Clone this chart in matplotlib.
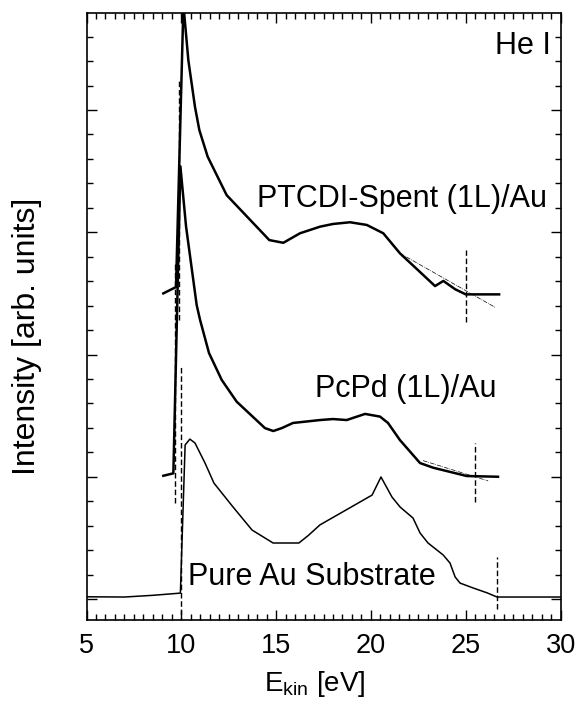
import matplotlib.pyplot as plt
from matplotlib.ticker import MultipleLocator

plt.rcParams['font.family'] = ['Liberation Sans', 'DejaVu Sans']
plt.rcParams['mathtext.fontset'] = 'custom'
plt.rcParams['mathtext.rm'] = 'Liberation Sans'
plt.rcParams['mathtext.it'] = 'Liberation Sans:italic'

# Pure Au substrate (thin line)
au_e = [5.0, 7.0, 8.5, 9.95, 10.2, 10.45, 10.72, 11.25, 11.72, 12.73, 13.73, 14.84,
        16.2, 16.7, 17.31, 20.06, 20.53, 21.11, 21.54, 22.22, 22.59, 23.01, 23.81,
        24.17, 24.44, 24.70, 25.39, 26.13, 26.65, 30.0]
au_i = [0.09, 0.08, 0.15, 0.24, 6.30, 6.54, 6.38, 5.56, 4.74, 3.76, 2.82, 2.29,
        2.29, 2.60, 3.03, 4.25, 4.99, 4.17, 3.76, 3.31, 2.70, 2.29, 1.80,
        1.47, 0.90, 0.65, 0.45, 0.25, 0.08, 0.08]

# PcPd (1L)/Au
pcpd_e = [9.05, 9.58, 9.95, 10.25, 10.81, 10.99, 11.46, 12.13, 12.92, 14.41, 14.85,
          15.30, 15.89, 17.32, 18.00, 18.72, 19.69, 20.48, 20.90, 21.53, 22.59, 23.28,
          25.05, 26.70]
pcpd_i = [5.04, 5.14, 17.70, 15.23, 12.02, 11.41, 10.06, 8.96, 8.07, 6.99, 6.87,
          6.99, 7.20, 7.32, 7.36, 7.32, 7.57, 7.46, 7.20, 6.50, 5.56, 5.37,
          5.03, 5.00]

# PTCDI-Spent (1L)/Au
ptcdi_e = [9.05, 9.72, 10.11, 10.37, 10.72, 10.95, 11.39, 12.39, 14.64, 15.38, 16.26,
           17.32, 18.00, 18.90, 19.78, 20.65, 21.53, 22.94, 23.38, 23.82, 24.44, 25.00,
           26.76]
ptcdi_i = [12.50, 12.76, 24.30, 22.04, 20.13, 19.18, 18.09, 16.52, 14.68, 14.57, 14.96,
           15.23, 15.34, 15.41, 15.30, 14.96, 14.14, 13.12, 12.80, 13.01, 12.67, 12.46,
           12.46]

# cutoff / onset markers (x, y_from, y_to)
onset_e = [9.88, 9.69, 9.96, 25.0, 25.51, 26.65]
onset_lo = [11.41, 3.93, -1.0, 11.33, 3.98, -0.41]
onset_hi = [21.27, 13.78, 9.50, 14.27, 6.39, 1.72]

# tangent lines at the high energy cutoff
tan_ptcdi_e = [21.53, 26.55]
tan_ptcdi_i = [14.14, 11.93]
tan_pcpd_e = [22.75, 26.18]
tan_pcpd_i = [5.66, 4.83]

fig = plt.figure(figsize=(5.78, 7.02), dpi=100)
ax = fig.add_axes([0.1497, 0.1168, 0.8201, 0.8640])

ax.plot(au_e, au_i, color='black', lw=1.1)
ax.plot(pcpd_e, pcpd_i, color='black', lw=1.8)
ax.plot(ptcdi_e, ptcdi_i, color='black', lw=1.8)

for x, lo, hi in zip(onset_e, onset_lo, onset_hi):
    ax.plot([x, x], [lo, hi], color='black', lw=1.0, ls=(0, (4, 2)))

ax.plot(tan_ptcdi_e, tan_ptcdi_i, color='black', lw=0.5, ls='-.')
ax.plot(tan_pcpd_e, tan_pcpd_i, color='black', lw=0.5, ls='-.')

ax.text(29.5, 22.29, 'He I', fontsize=22, ha='right', va='baseline')
ax.text(29.27, 16.05, 'PTCDI-Spent (1L)/Au', fontsize=22, ha='right', va='baseline')
ax.text(26.6, 8.25, 'PcPd (1L)/Au', fontsize=22, ha='right', va='baseline')
ax.text(10.37, 0.57, 'Pure Au Substrate', fontsize=22, ha='left', va='baseline')

ax.set_xlim(5, 30)
ax.set_ylim(-0.86, 23.95)
ax.xaxis.set_major_locator(MultipleLocator(5))
ax.xaxis.set_minor_locator(MultipleLocator(0.5))
ax.yaxis.set_major_locator(MultipleLocator(5))
ax.yaxis.set_minor_locator(MultipleLocator(1))
ax.tick_params(which='both', direction='in', top=True, right=True,
               labelleft=False, width=1.0)
ax.tick_params(which='major', length=7.5, labelsize=19.5, pad=9)
ax.tick_params(which='minor', length=4)
for sp in ax.spines.values():
    sp.set_linewidth(1.2)

fig.text(27 / 578, 1 - 336.7 / 702, 'Intensity [arb. units]', fontsize=23,
         rotation=90, ha='center', va='center')
fig.text(315 / 578, 11 / 702, r'E$_\mathrm{kin}$ [eV]', fontsize=20,
         ha='center', va='baseline')

fig.savefig('out.png', dpi=100)
